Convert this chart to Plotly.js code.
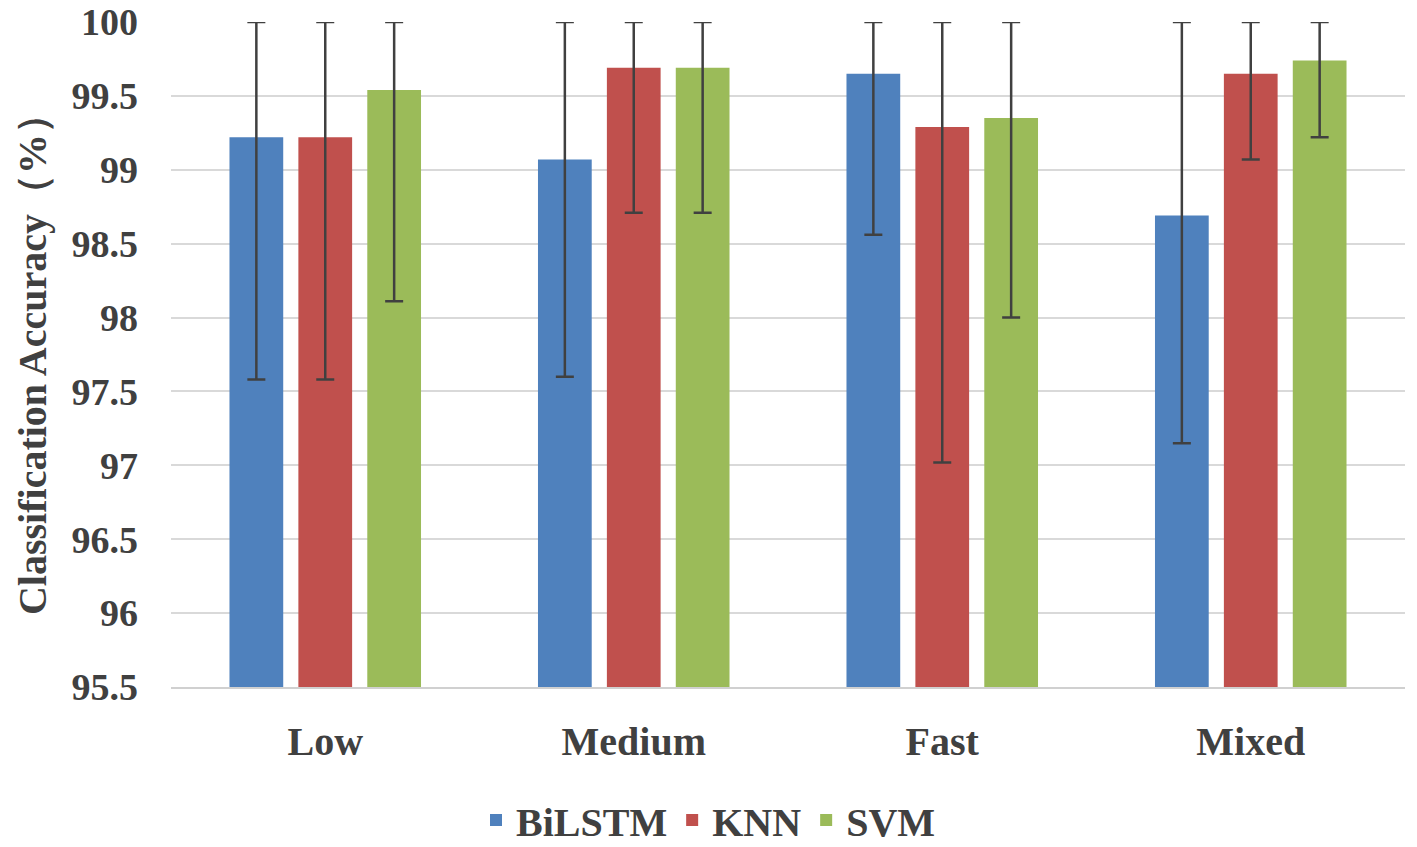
<!DOCTYPE html>
<html>
<head>
<meta charset="utf-8">
<script src="https://cdn.plot.ly/plotly-3.0.1.min.js"></script>
<style>
  html, body {margin:0; padding:0; background:#fff;}
  #graph {width:1417px; height:847px;}
</style>
</head>
<body>
<div id="graph"></div>
<script>
// speed categories on the x axis
var categories = ["Low", "Medium", "Fast", "Mixed"];
var seriesNames = ["BiLSTM", "KNN", "SVM"];
var seriesColors = ["#4f81bd", "#c0504d", "#9bbb59"];

// mean accuracy (%)
var bilstmMean = [99.22, 99.07, 99.65, 98.69];
var knnMean    = [99.22, 99.69, 99.29, 99.65];
var svmMean    = [99.54, 99.69, 99.35, 99.74];

// top and bottom of each error bar (tops are cut at 100)
var bilstmHigh = [100, 100, 100, 100];
var bilstmLow  = [97.58, 97.60, 98.56, 97.15];
var knnHigh    = [100, 100, 100, 100];
var knnLow     = [97.58, 98.71, 97.02, 99.07];
var svmHigh    = [100, 100, 100, 100];
var svmLow     = [98.11, 98.71, 98.00, 99.22];

var means = [bilstmMean, knnMean, svmMean];
var highs = [bilstmHigh, knnHigh, svmHigh];
var lows  = [bilstmLow, knnLow, svmLow];

var font = "Liberation Serif, Times New Roman, serif";
var txt = "#404040";

let data = [];
seriesNames.forEach((name, i) => {
  let m = means[i];
  data.push({
    type: 'bar',
    name: name,
    x: categories,
    y: m,
    marker: {color: seriesColors[i]},
    error_y: {
      type: 'data',
      symmetric: false,
      array: highs[i].map((h, k) => h - m[k]),
      arrayminus: lows[i].map((l, k) => m[k] - l),
      color: '#404040',
      thickness: 2.5,
      width: 9
    },
    hoverinfo: 'x+y+name'
  });
});

var layout = {
  width: 1417,
  height: 847,
  paper_bgcolor: '#ffffff',
  plot_bgcolor: '#ffffff',
  margin: {l: 171, r: 12, t: 22, b: 160},
  barmode: 'group',
  bargap: 0.33,
  bargroupgap: 0.22,
  font: {family: font, color: txt},
  yaxis: {
    range: [95.5, 100],
    dtick: 0.5,
    tick0: 95.5,
    showgrid: true,
    gridcolor: '#d9d9d9',
    gridwidth: 2,
    zeroline: false,
    showline: false,
    ticks: '',
    ticklabelstandoff: 32,
    tickfont: {family: font, size: 38, color: txt, weight: 'bold'},
    title: {
      text: 'Classification Accuracy（%）',
      font: {family: font, size: 40, color: txt, weight: 'bold'},
      standoff: 12
    }
  },
  xaxis: {
    showline: true,
    linecolor: '#d0d0d0',
    linewidth: 2,
    ticks: '',
    ticklabelstandoff: 18,
    tickfont: {family: font, size: 40, color: txt, weight: 'bold'}
  },
  showlegend: true,
  legend: {
    orientation: 'h',
    xref: 'container',
    yref: 'container',
    x: 0.5,
    xanchor: 'center',
    y: 0.032,
    yanchor: 'middle',
    font: {family: font, size: 40, color: txt, weight: 'bold'},
    itemwidth: 30,
    tracegroupgap: 0
  }
};

Plotly.newPlot('graph', data, layout, {displayModeBar: false});
</script>
</body>
</html>
